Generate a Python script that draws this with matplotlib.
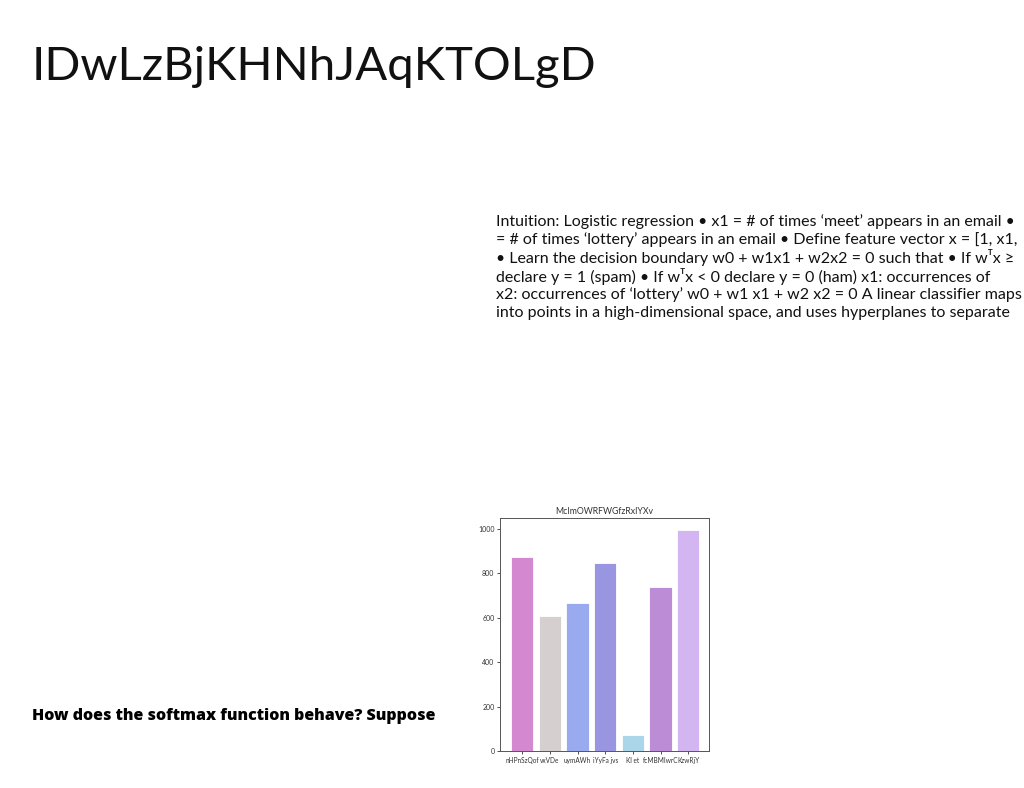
import matplotlib
matplotlib.use("Agg")
import matplotlib.pyplot as plt

TITLE = "IDwLzBjKHNhJAqKTOLgD"
BODY_LINES = [
    "Intuition: Logistic regression \u2022 x1 = # of times \u2018meet\u2019 appears in an email \u2022",
    "= # of times \u2018lottery\u2019 appears in an email \u2022 Define feature vector x = [1, x1,",
    "\u2022 Learn the decision boundary w0 + w1x1 + w2x2 = 0 such that \u2022 If w\u1d40x \u2265",
    "declare y = 1 (spam) \u2022 If w\u1d40x < 0 declare y = 0 (ham) x1: occurrences of",
    "x2: occurrences of \u2018lottery\u2019 w0 + w1 x1 + w2 x2 = 0 A linear classifier maps",
    "into points in a high-dimensional space, and uses hyperplanes to separate",
]
QUESTION = "How does the softmax function behave? Suppose"

CHART_TITLE = "McImOWRFWGfzRxIYXv"
categories = ["nHPnSzQof", "vxVDe", "uymAWh", "iYyFa jvs", "Kl et", "fcMBMIwrC", "KzwRjY"]
values = [875, 610, 665, 848, 72, 738, 997]
colors = ["#D488D0", "#D5D0CF", "#99ABEE", "#9A95E0", "#ABD5E9", "#BC8DD6", "#D2B5F1"]
yticks = [0, 200, 400, 600, 800, 1000]


def main():
    fig = plt.figure(figsize=(10.24, 7.88), dpi=100)
    fig.patch.set_facecolor("white")

    fig.text(0.031, 0.898, TITLE, fontsize=34, family=["Lato", "DejaVu Sans"],
             color="#111111", va="baseline", ha="left")

    y0 = 1 - 221.5 / 788
    for i, line in enumerate(BODY_LINES):
        fig.text(496 / 1024, y0 - i * 18.2 / 788, line, fontsize=11.55,
                 family=["Lato", "DejaVu Sans"], color="#111111",
                 va="center", ha="left")

    fig.text(32 / 1024, 1 - 716 / 788, QUESTION, fontsize=11.5,
             family=["Open Sans", "DejaVu Sans"], weight=800,
             color="#000000", va="center", ha="left")

    # small bar chart
    ax = fig.add_axes([500 / 1024, 1 - 751 / 788, 209 / 1024, 233 / 788])
    x = list(range(len(values)))
    ax.bar(x, values, width=0.8, color=colors, edgecolor="white", linewidth=0.6)
    ax.set_ylim(0, 1050)
    ax.set_xlim(-0.8, 6.75)
    ax.set_yticks(yticks)
    ax.set_xticks(x)
    ax.set_xticklabels(categories)
    small = ["Lato", "DejaVu Sans"]
    for lab in ax.get_xticklabels():
        lab.set_family(small)
        lab.set_fontsize(4.7)
        lab.set_color("#333333")
    for lab in ax.get_yticklabels():
        lab.set_family(small)
        lab.set_fontsize(5)
        lab.set_color("#333333")
    ax.tick_params(length=2.5, width=0.6, pad=1.5, colors="#333333")
    for sp in ax.spines.values():
        sp.set_linewidth(0.7)
        sp.set_color("#555555")
    ax.set_title(CHART_TITLE, fontsize=6.3, family=small, color="#333333", pad=3)

    fig.savefig("out.png", dpi=100)


if __name__ == "__main__":
    main()
